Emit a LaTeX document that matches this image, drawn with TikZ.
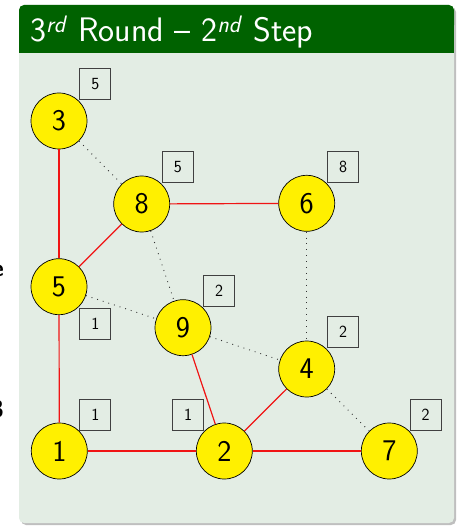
\documentclass[tikz,border=0pt]{standalone}
\definecolor{titlegreen}{RGB}{0,98,0}
\definecolor{bodygreen}{RGB}{227,237,228}
\definecolor{nodeyellow}{RGB}{255,240,0}
\definecolor{edgered}{RGB}{240,20,20}
\begin{document}
\begin{tikzpicture}[x=1pt,y=-1pt,
  vertex/.style={circle,draw=black,line width=0.7pt,fill=nodeyellow,minimum size=56pt,inner sep=0pt,
    font=\sffamily\fontsize{30}{30}\selectfont},
  weight/.style={draw=black!75,line width=0.7pt,minimum size=31pt,inner sep=0pt,
    font=\sffamily\fontsize{17}{17}\selectfont},
  tree/.style={draw=edgered,line width=1.2pt},
  cand/.style={draw=black!80,line width=0.9pt,dash pattern=on 0.9pt off 5pt}]
\useasboundingbox (0,0) rectangle (459,526);
\begin{scope}
\clip (0,0) rectangle (459,526);
\node[anchor=base east,font=\sffamily\bfseries\fontsize{24}{24}\selectfont,inner sep=0pt] (cute) at (4,276) {e};
\node[anchor=base east,font=\sffamily\bfseries\fontsize{24}{24}\selectfont,inner sep=0pt] (cutthree) at (4,417) {3};
\end{scope}
% shadow
\fill[black!25,rounded corners=5pt] (21,7) rectangle (456,525);
% block
\fill[bodygreen,rounded corners=5pt] (19,5) rectangle (454,523);
\fill[titlegreen,rounded corners=5pt] (19,5) rectangle (454,30);
\fill[titlegreen] (19,20) rectangle (454,53);
\node[anchor=base west,text=white,inner sep=0pt,font=\sffamily\fontsize{34}{34}\selectfont] (title) at (30,42)
  {3\textsuperscript{\textit{rd}} Round -- 2\textsuperscript{\textit{nd}} Step};
% vertices
\node[vertex] (n3) at (59,121) {3};
\node[vertex] (n8) at (141.7,204) {8};
\node[vertex] (n6) at (306.7,203.3) {6};
\node[vertex] (n5) at (59,286.7) {5};
\node[vertex] (n9) at (183,327.7) {9};
\node[vertex] (n4) at (306.7,369) {4};
\node[vertex] (n1) at (59.3,451) {1};
\node[vertex] (n2) at (224.3,451) {2};
\node[vertex] (n7) at (389.3,451) {7};
% edges
\draw[tree] (n3) -- (n5);
\draw[tree] (n5) -- (n8);
\draw[tree] (n8) -- (n6);
\draw[tree] (n5) -- (n1);
\draw[tree] (n1) -- (n2);
\draw[tree] (n2) -- (n9);
\draw[tree] (n2) -- (n4);
\draw[tree] (n2) -- (n7);
\draw[cand] (n3) -- (n8);
\draw[cand] (n8) -- (n9);
\draw[cand] (n5) -- (n9);
\draw[cand] (n9) -- (n4);
\draw[cand] (n6) -- (n4);
\draw[cand] (n4) -- (n7);
% weights
\node[weight] (w3) at (95.3,84) {5};
\node[weight] (w8) at (177.8,166.7) {5};
\node[weight] (w6) at (343,167) {8};
\node[weight] (w5) at (95.3,323.7) {1};
\node[weight] (w9) at (219,290.5) {2};
\node[weight] (w4) at (343,332) {2};
\node[weight] (w1) at (95.3,414.7) {1};
\node[weight] (w2) at (188,414.7) {1};
\node[weight] (w7) at (425.7,414.7) {2};
\end{tikzpicture}
\end{document}
